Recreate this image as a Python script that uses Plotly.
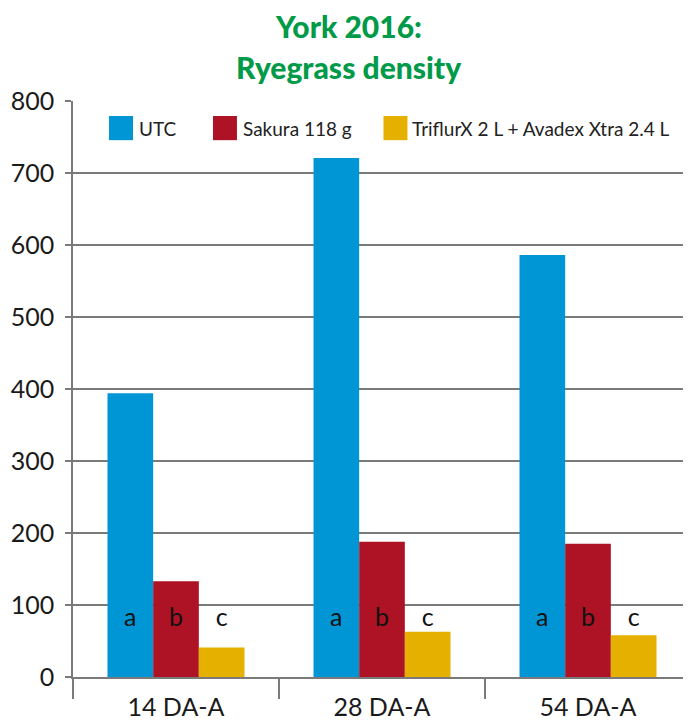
import plotly.graph_objects as go

categories = ["14 DA-A", "28 DA-A", "54 DA-A"]
series_names = ["UTC", "Sakura 118 g", "TriflurX 2 L + Avadex Xtra 2.4 L"]
utc = [394, 721, 586]
sakura = [133, 188, 185]
triflurx = [41, 63, 58]
letters = ["a", "b", "c"]
letter_level = 80
y_ticks = [0, 100, 200, 300, 400, 500, 600, 700, 800]
title_lines = ["York 2016:", "Ryegrass density"]

colors = ["#0096d6", "#ad1324", "#e6b000"]
FONT = "Lato"
GRID = "#7a7a7a"

fig = go.Figure()
values = [utc, sakura, triflurx]
for i, (name, vals) in enumerate(zip(series_names, values)):
    fig.add_trace(go.Bar(
        x=categories, y=vals, name=name, marker_color=colors[i],
        marker_line_width=0, offsetgroup=str(i), hoverinfo="skip",
        showlegend=False,
    ))
for i, let in enumerate(letters):
    fig.add_trace(go.Scatter(
        x=categories, y=[letter_level] * len(categories), mode="text",
        text=[let] * len(categories), offsetgroup=str(i),
        textfont=dict(family=FONT, size=25, color="#111111"),
        hoverinfo="skip", showlegend=False,
    ))

# custom legend (large squares)
leg_sq_x = [0.0583, 0.2265, 0.5024]
leg_txt_x = [0.1036, 0.2718, 0.5453]
for i, name in enumerate(series_names):
    fig.add_shape(type="rect", xref="paper", yref="paper",
                  x0=leg_sq_x[i], x1=leg_sq_x[i] + 0.0388,
                  y0=0.932, y1=0.974, fillcolor=colors[i], line_width=0)
    fig.add_annotation(text=name, xref="paper", yref="paper",
                       x=leg_txt_x[i], y=0.953, xanchor="left", yanchor="middle",
                       showarrow=False,
                       font=dict(family=FONT, size=19, color="#222222"))

for j, (line, yy) in enumerate(zip(title_lines, [1.131, 1.059])):
    fig.add_annotation(text=line, xref="paper", yref="paper",
                       x=0.4466, y=yy, xanchor="center", yanchor="middle",
                       showarrow=False,
                       font=dict(family=FONT, size=30, color="#009a48", weight=900))

fig.update_layout(
    width=683, height=714,
    margin=dict(l=65, r=0, t=93, b=45),
    paper_bgcolor="white", plot_bgcolor="white",
    barmode="group", bargap=0.335, bargroupgap=0,
    scattermode="group", scattergap=0.335,
    showlegend=False,
    font=dict(family=FONT, color="#1a1a1a"),
)
fig.update_yaxes(
    range=[0, 800], tickvals=y_ticks, showgrid=True, gridcolor=GRID, gridwidth=1.5,
    showline=True, linecolor=GRID, linewidth=1.5, ticks="outside", ticklen=6,
    tickcolor=GRID, tickwidth=1.5, zeroline=False,
    tickfont=dict(family=FONT, size=25, color="#1a1a1a"),
    ticklabelstandoff=6,
)
fig.update_xaxes(
    type="category", showline=True, linecolor=GRID, linewidth=1.5,
    ticks="outside", tickson="boundaries", ticklen=20, tickcolor=GRID, tickwidth=1.5,
    tickfont=dict(family=FONT, size=25, color="#1a1a1a"), showgrid=False,
    ticklabelstandoff=7,
)

fig.write_html("out.html")
